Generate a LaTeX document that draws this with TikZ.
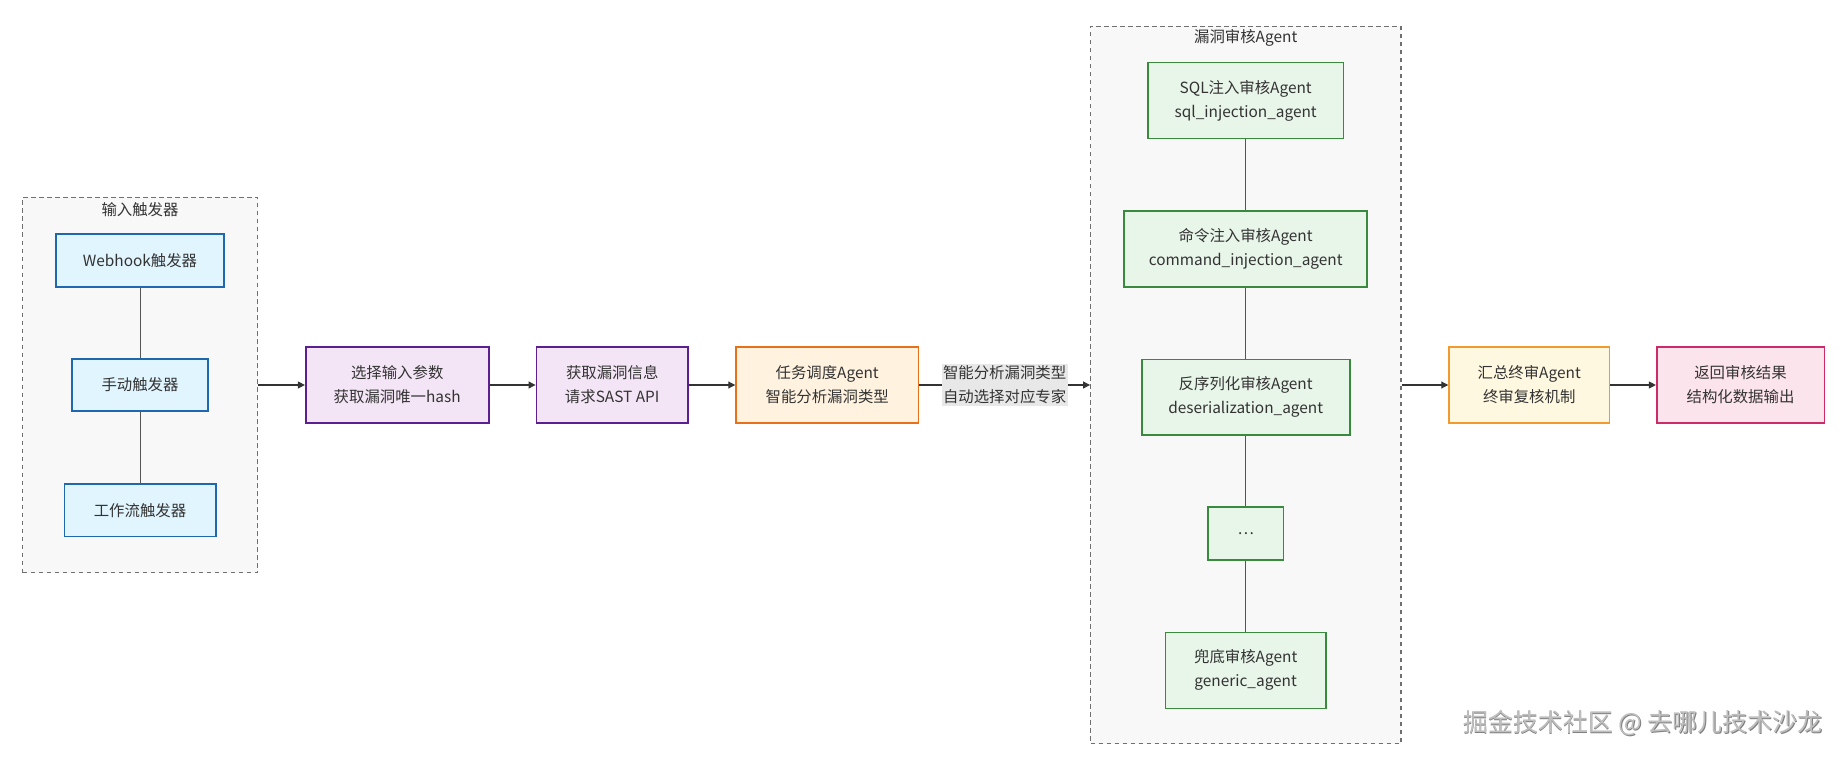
\documentclass[tikz,border=0pt]{standalone}
\usepackage{fontspec}
\setmainfont{Noto Sans CJK SC}
\usetikzlibrary{arrows.meta,positioning}
\definecolor{txt}{HTML}{333333}
\definecolor{bluefill}{HTML}{E1F5FE}\definecolor{bluedraw}{HTML}{1F68B0}
\definecolor{purfill}{HTML}{F3E5F5}\definecolor{purdraw}{HTML}{5B1F8F}
\definecolor{orfill}{HTML}{FFF3E0}\definecolor{ordraw}{HTML}{E8701A}
\definecolor{grfill}{HTML}{E8F5E9}\definecolor{grdraw}{HTML}{3A8A3E}
\definecolor{yefill}{HTML}{FFF8E1}\definecolor{yedraw}{HTML}{F29A2E}
\definecolor{pkfill}{HTML}{FCE4EC}\definecolor{pkdraw}{HTML}{CC2A68}
\definecolor{grpfill}{HTML}{F8F8F8}\definecolor{grpdraw}{HTML}{707070}
\definecolor{lblfill}{HTML}{E8E8E8}
\definecolor{edge}{HTML}{333333}
\definecolor{link}{HTML}{555555}
\tikzset{
  every node/.style={font=\fontsize{15.4}{24}\selectfont, text=txt},
  box/.style={rectangle, line width=1.6pt, align=center, inner sep=0pt},
  bluebox/.style={box, fill=bluefill, draw=bluedraw},
  purbox/.style={box, fill=purfill, draw=purdraw},
  orbox/.style={box, fill=orfill, draw=ordraw},
  grbox/.style={box, fill=grfill, draw=grdraw},
  yebox/.style={box, fill=yefill, draw=yedraw},
  pkbox/.style={box, fill=pkfill, draw=pkdraw},
  group/.style={rectangle, fill=grpfill, draw=grpdraw, line width=1.3pt, dash pattern=on 4.5pt off 3.5pt, inner sep=0pt},
  grouptitle/.style={font=\fontsize{15.4}{18}\selectfont},
  flow/.style={draw=edge, line width=1.1pt, -{Triangle[length=7pt,width=7pt]}},
  linkline/.style={draw=link, line width=1pt},
  edgelabel/.style={fill=lblfill, align=center, inner sep=1.5pt},
}
\begin{document}
\begin{tikzpicture}[x=1pt,y=-1pt]
\useasboundingbox (0,0) rectangle (1846,759);
\fill[white] (0,0) rectangle (1846,759);
% containers
\node[group, minimum width=235pt, minimum height=375pt] (g1) at (140.2,385) {};
\node[grouptitle] (g1t) at (140,210) {输入触发器};
\node[group, minimum width=310.3pt, minimum height=717.6pt] (g2) at (1245.85,385) {};
\node[grouptitle] (g2t) at (1245.7,37.5) {漏洞审核Agent};
% trigger nodes
\node[bluebox, minimum width=167.7pt, minimum height=52.4pt] (wh) at (140,260.5) {Webhook触发器};
\node[bluebox, minimum width=136pt, minimum height=52.3pt] (man) at (140,385) {手动触发器};
\node[bluebox, minimum width=151.4pt, minimum height=52.7pt] (wf) at (140,510.3) {工作流触发器};
% main flow
\node[purbox, minimum width=183pt, minimum height=76pt] (sel) at (397.2,385) {选择输入参数\\获取漏洞唯一hash};
\node[purbox, minimum width=151.7pt, minimum height=76pt] (get) at (612.2,385) {获取漏洞信息\\请求SAST API};
\node[orbox, minimum width=182.3pt, minimum height=76pt] (task) at (827.2,385) {任务调度Agent\\智能分析漏洞类型};
% agents
\node[grbox, minimum width=195.3pt, minimum height=76pt] (sql) at (1245.7,100.7) {SQL注入审核Agent\\sql\_injection\_agent};
\node[grbox, minimum width=243pt, minimum height=76pt] (cmd) at (1245.7,249) {命令注入审核Agent\\command\_injection\_agent};
\node[grbox, minimum width=208pt, minimum height=75.7pt] (des) at (1245.7,397.2) {反序列化审核Agent\\deserialization\_agent};
\node[grbox, minimum width=75.6pt, minimum height=53pt] (dots) at (1245.7,533.5) {…};
\node[grbox, minimum width=160.7pt, minimum height=76pt] (gen) at (1245.7,670.3) {兜底审核Agent\\generic\_agent};
% final
\node[yebox, minimum width=160.3pt, minimum height=76pt] (sum) at (1529.2,385) {汇总终审Agent\\终审复核机制};
\node[pkbox, minimum width=167.6pt, minimum height=76pt] (ret) at (1740.5,385) {返回审核结果\\结构化数据输出};
% links inside groups
\draw[linkline] (wh) -- (man);
\draw[linkline] (man) -- (wf);
\draw[linkline] (sql) -- (cmd);
\draw[linkline] (cmd) -- (des);
\draw[linkline] (des) -- (dots);
\draw[linkline] (dots) -- (gen);
% flow arrows
\draw[flow] (g1.east) -- (sel.west);
\draw[flow] (sel) -- (get);
\draw[flow] (get) -- (task);
\draw[flow] (task.east) -- node[edgelabel] (lbl) {智能分析漏洞类型\\自动选择对应专家} (g2.west);
\draw[flow] (g2.east) -- (sum.west);
\draw[flow] (sum) -- (ret);
% watermark
\node[font=\fontsize{25}{28}\selectfont, text=black!50] (wms) at (1643.8,723.8) {掘金技术社区 @ 去哪儿技术沙龙};
\node[font=\fontsize{25}{28}\selectfont, text=black!25] (wm) at (1643,723) {掘金技术社区 @ 去哪儿技术沙龙};
\end{tikzpicture}
\end{document}
